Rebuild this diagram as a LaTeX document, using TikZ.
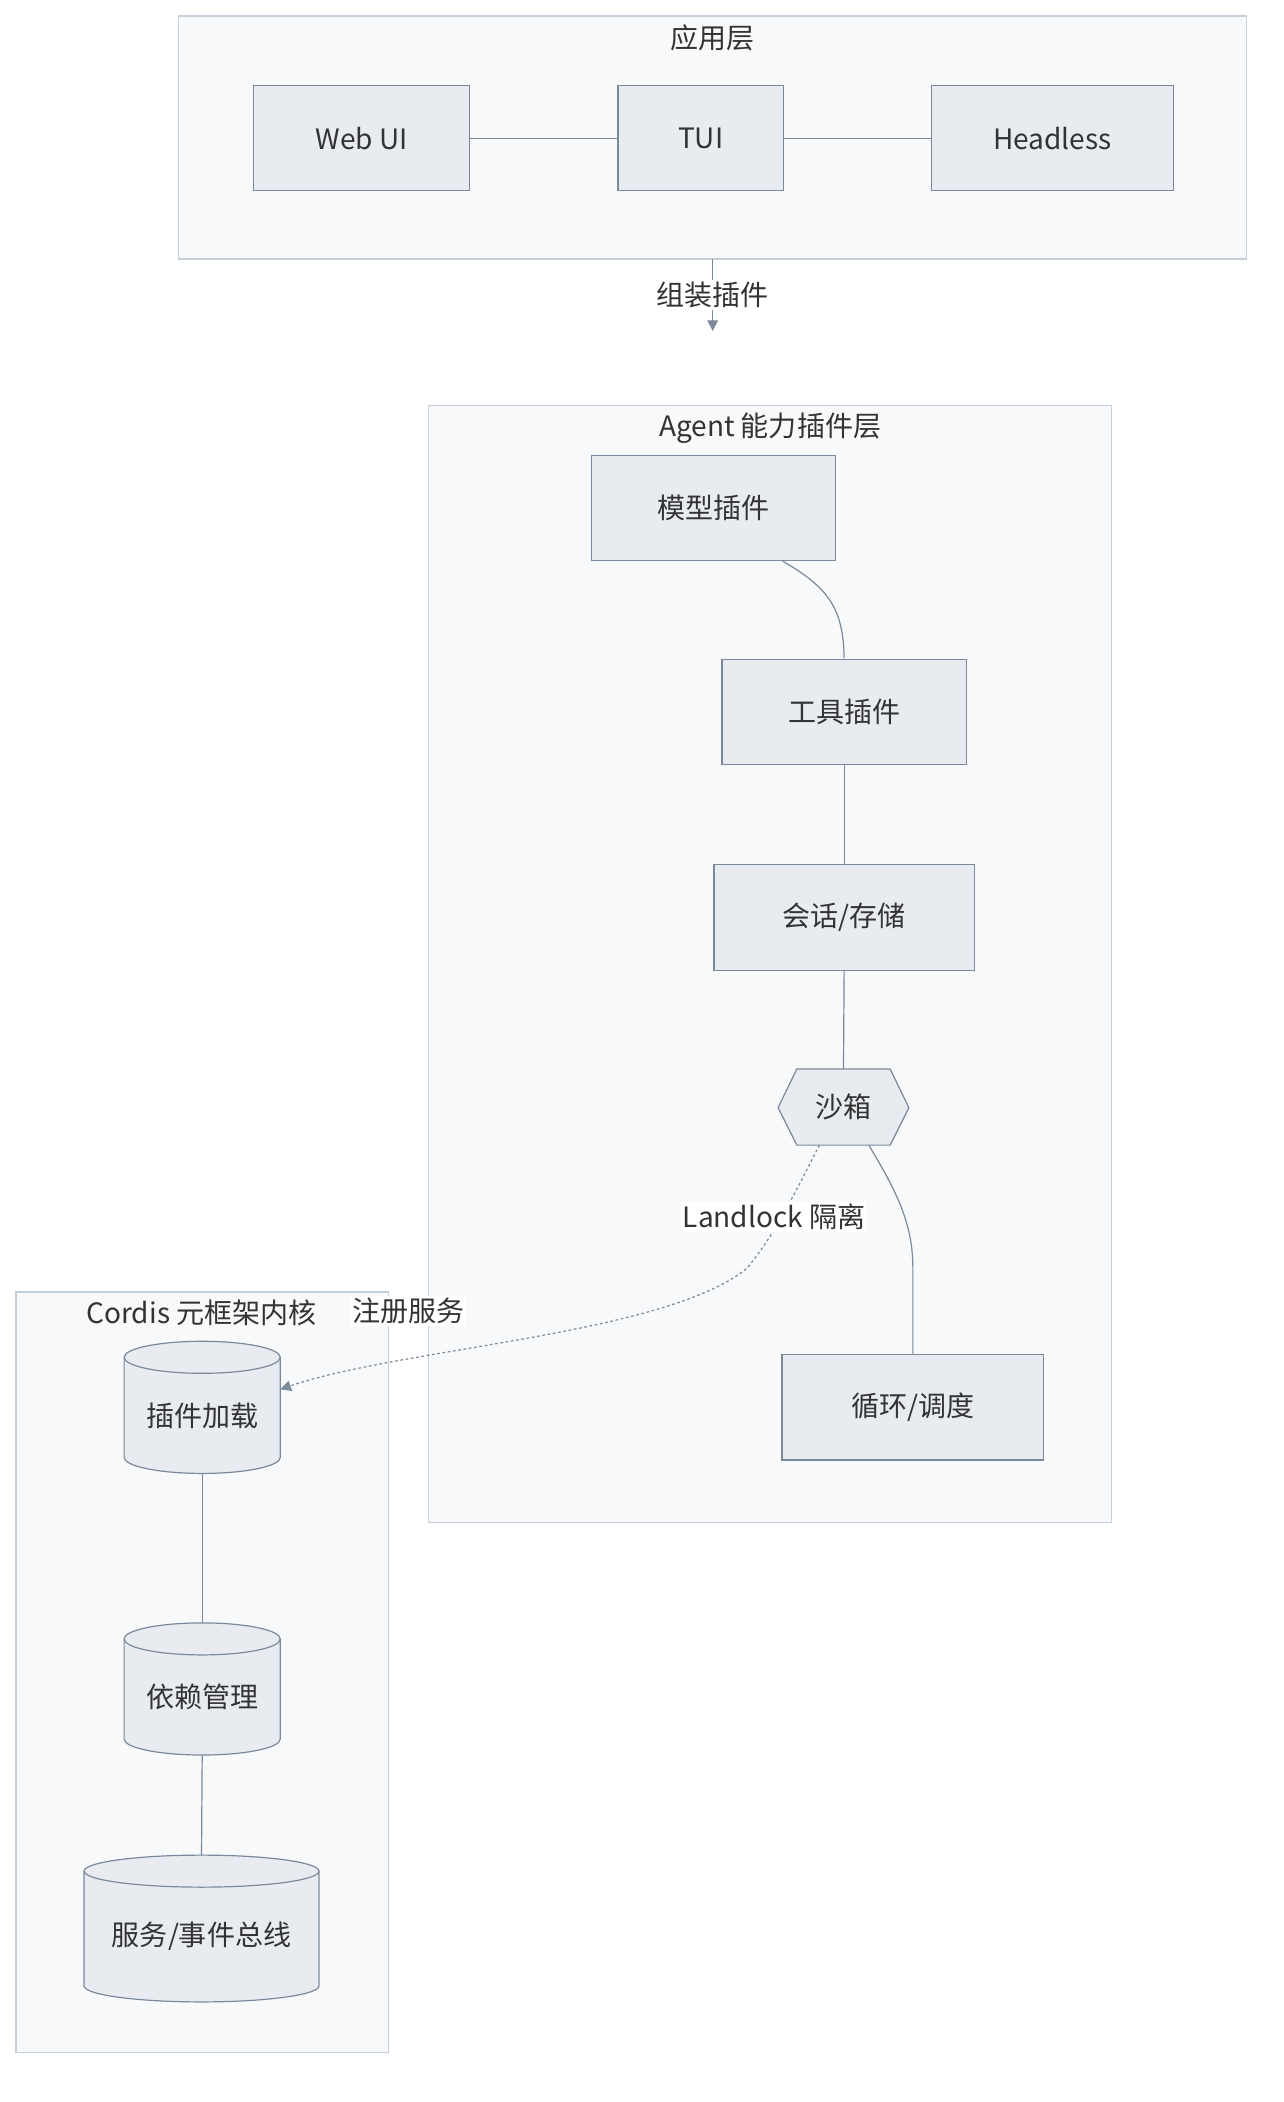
\documentclass[tikz,border=0pt]{standalone}
\usepackage{fontspec}
\setmainfont{Noto Sans CJK SC}
\usetikzlibrary{arrows.meta}
\definecolor{nfill}{HTML}{E8ECF1}
\definecolor{nline}{HTML}{7A8A9A}
\definecolor{cfill}{HTML}{F8F9FB}
\definecolor{cline}{HTML}{C5D0DB}
\definecolor{txt}{HTML}{333333}
\tikzset{
 cl/.style={draw=cline,fill=cfill,line width=0.9},
 box/.style={draw=nline,fill=nfill,line width=0.9,inner sep=0},
 lab/.style={text=txt,font=\fontsize{21}{24}\selectfont,inner sep=1.5},
 edge/.style={draw=nline,line width=0.9},
 tip/.style={-{Triangle[length=8,width=8]}}
}
\newcommand{\bx}[6]{\node[box,minimum width=#3-#2,minimum height=#5-#4] (#1) at ({(#2+#3)/2},{(#4+#5)/2}) {}; \node[lab] at (#1) {#6};}
\newcommand{\cyl}[6]{%
 \path[box] (#2,#4+12) -- (#2,#5-12) arc[start angle=180,end angle=0,x radius={(#3-#2)/2},y radius=12] -- (#3,#4+12) arc[start angle=360,end angle=180,x radius={(#3-#2)/2},y radius=12] -- cycle;
 \draw[nline,line width=0.9] (#2,#4+12) arc[start angle=180,end angle=0,x radius={(#3-#2)/2},y radius=12];
 \node[inner sep=0,minimum width=#3-#2,minimum height=#5-#4] (#1) at ({(#2+#3)/2},{(#4+#5)/2}) {};
 \node[lab] at ({(#2+#3)/2},{(#4+#5)/2+6}) {#6};}
\begin{document}
\begin{tikzpicture}[x=1pt,y=-1pt]
\useasboundingbox[fill=white] (0,0) rectangle (962,1575);
% clusters
\draw[cl] (134,12) rectangle (934,194);
\node[lab] at (534,28) {应用层};
\draw[cl] (321,304) rectangle (833,1141);
\node[lab] at (577,321) {Agent 能力插件层};
\draw[cl] (12,968) rectangle (291,1538);
\node[lab] at (151,984) {Cordis 元框架内核};
% nodes
\bx{web}{190}{352}{64}{143}{Web UI}
\bx{tui}{463}{587}{64}{143}{TUI}
\bx{hl}{698}{879}{64}{143}{Headless}
\bx{model}{443}{626}{341}{420}{模型插件}
\bx{tool}{541}{724}{494}{573}{工具插件}
\bx{sess}{535}{730}{648}{727}{会话/存储}
\bx{loop}{586}{782}{1015}{1094}{循环/调度}
\path[box] (583,830) -- (597,801) -- (667,801) -- (681,830) -- (667,858) -- (597,858) -- cycle;
\node[inner sep=0,minimum width=98,minimum height=57] (sb) at (632,830) {};
\node[lab] at (632,829) {沙箱};
\cyl{load}{93}{210}{1005}{1104}{插件加载}
\cyl{dep}{93}{210}{1216}{1315}{依赖管理}
\cyl{bus}{63}{239}{1390}{1500}{服务/事件总线}
% edges
\draw[edge] (web.east) -- (tui.west);
\draw[edge] (tui.east) -- (hl.west);
\coordinate (c1) at (534,194);
\coordinate (c2) at (534,248);
\draw[edge,tip] (c1) -- (c2);
\node[lab,fill=white] (l1) at (534,221) {组装插件};
\draw[edge] (model.south east) ++(-40,0) coordinate (m1) .. controls (620,440) and (632,455) .. (tool.north);
\draw[edge] (tool.south) -- (sess.north);
\draw[edge] (sess.south) -- (sb.north);
\coordinate (s1) at (651,858);
\draw[edge] (s1) .. controls (670,890) and (684,915) .. (684,950) -- (loop.north);
\coordinate (s2) at (614,858);
\draw[edge,dashed,dash pattern=on 2pt off 2pt,tip] (s2) .. controls (590,905) and (580,925) .. (560,950) .. controls (500,1000) and (300,1010) .. (210,1041);
\node[lab,fill=white] at (580,912) {Landlock 隔离};
\node[lab,fill=white] at (306,982) {注册服务};
\draw[edge] (load.south) -- (dep.north);
\draw[edge] (dep.south) -- (bus.north);
\end{tikzpicture}
\end{document}
